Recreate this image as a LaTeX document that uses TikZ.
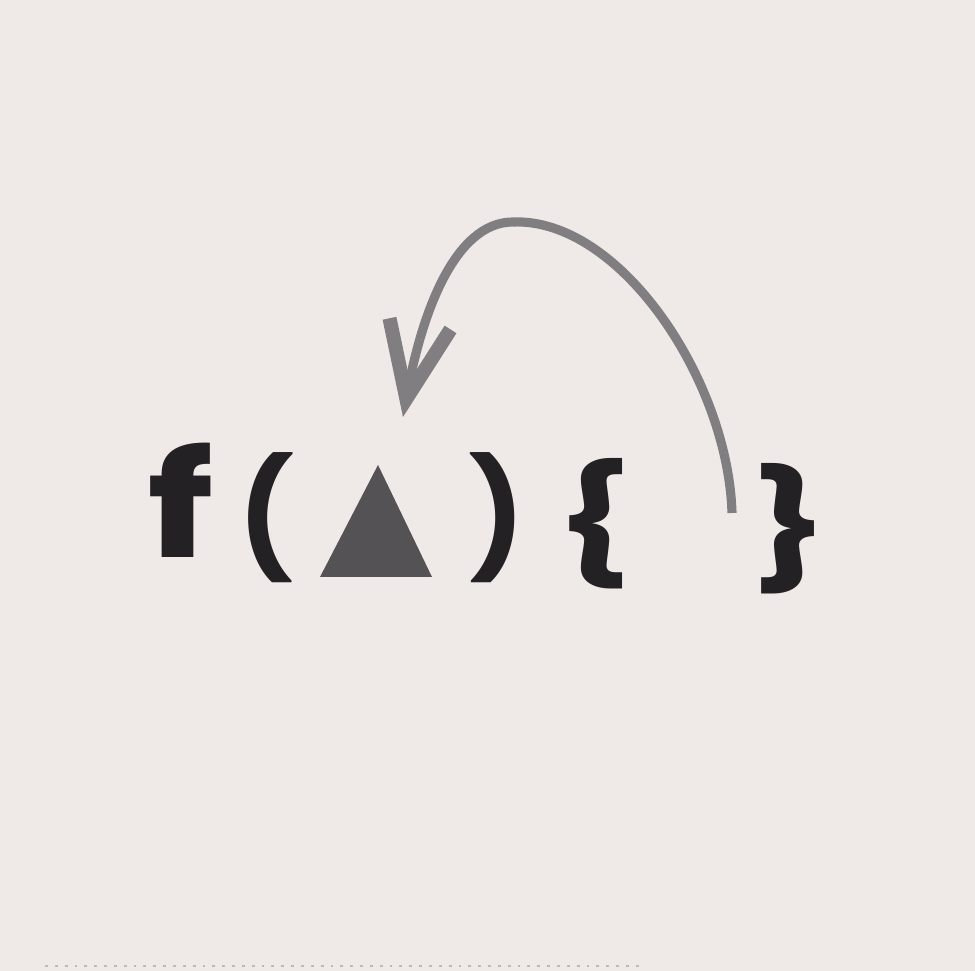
\documentclass[tikz,border=0pt]{standalone}
\usepackage{fontspec}
\newfontfamily\codefont{Poppins}[BoldFont={* Bold}]
\usetikzlibrary{arrows.meta, positioning, calc}
\definecolor{paper}{RGB}{239,234,232}
\definecolor{inkdark}{RGB}{35,33,35}
\definecolor{halftone}{RGB}{84,82,84}
\definecolor{arrowgray}{RGB}{128,126,128}

\tikzset{
  glyph/.style={inner sep=0pt, anchor=base, text=inkdark,
    font=\codefont\bfseries\fontsize{#1}{#1}\selectfont},
  backarrow/.style={arrowgray, line width=2.6pt,
    -{Straight Barb[length=7.6mm, width=6.2mm, line width=4pt]}}
}

\begin{document}
\begin{tikzpicture}[x=0.01cm, y=-0.01cm]
  \fill[paper] (0,0) rectangle (975,971);
  \useasboundingbox (0,0) rectangle (975,971);

  % f ( triangle ) { }
  \node[glyph=41.5] (f) at (181,558) {\scalebox{1.27}[1]{f}};
  \node[glyph=33] (lpar) at (266,559) {(};
  \fill[halftone] (320,577) -- (378,465) -- (432,577) -- cycle;
  \coordinate (tri) at (378,465);
  \node[glyph=33] (rpar) at (497,559) {)};
  \node[glyph=33] (lbrace) at (595,565) {\scalebox{1.35}[1]{\{}};
  \node[glyph=33] (rbrace) at (790,570) {\scalebox{1.35}[1]{\}}};

  % arrow from the body back to the argument
  \coordinate (body) at (732,513);
  \coordinate (top) at (513,222);
  \coordinate (tip) at ($(tri)+(25,-48)$);
  \draw[backarrow] (body) .. controls (728,380) and (620,218) .. (top)
    .. controls (455,222) and (422,313) .. (tip);

  \draw[gray!55, dotted, line width=0.8pt] (45,966) -- (640,966);
\end{tikzpicture}
\end{document}
